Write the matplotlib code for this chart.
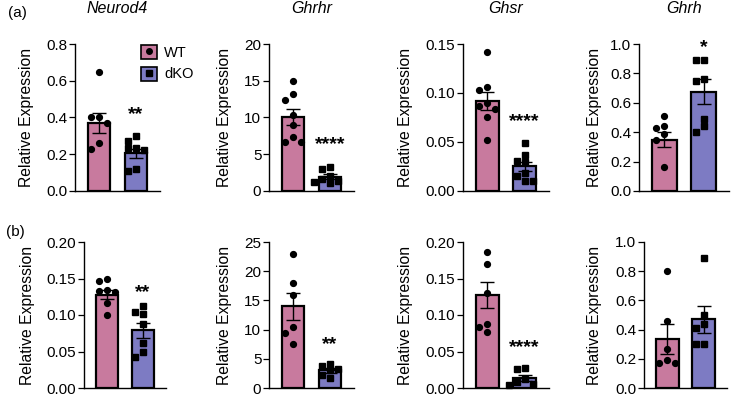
import matplotlib
matplotlib.use('Agg')
from matplotlib import pyplot
from matplotlib.patches import Patch
from matplotlib.lines import Line2D
from matplotlib.ticker import MultipleLocator, FormatStrFormatter

pyplot.rcParams['font.family'] = ['Liberation Sans', 'DejaVu Sans']

# Panel data, row (a) then row (b)
genes = ['Neurod4', 'Ghrhr', 'Ghsr', 'Ghrh', '', '', '', '']
groups = ['WT', 'dKO']

wt_points = [
    [0.65, 0.40, 0.40, 0.37, 0.26, 0.23],
    [15.0, 13.2, 12.4, 10.4, 9.0, 7.3, 6.6, 6.6],
    [0.142, 0.106, 0.103, 0.090, 0.087, 0.084, 0.076, 0.052],
    [0.51, 0.44, 0.43, 0.39, 0.35, 0.16],
    [0.149, 0.147, 0.134, 0.133, 0.131, 0.116, 0.100],
    [23.0, 17.9, 15.9, 10.4, 9.5, 7.5],
    [0.186, 0.170, 0.130, 0.088, 0.083, 0.077],
    [0.80, 0.46, 0.27, 0.19, 0.17, 0.17],
]
dko_points = [
    [0.30, 0.27, 0.233, 0.236, 0.224, 0.12, 0.11],
    [3.2, 3.0, 2.0, 1.7, 1.4, 1.2, 1.1],
    [0.049, 0.037, 0.031, 0.030, 0.018, 0.015, 0.010, 0.010],
    [0.89, 0.89, 0.76, 0.75, 0.49, 0.44, 0.40],
    [0.112, 0.104, 0.101, 0.088, 0.062, 0.049, 0.043],
    [4.1, 3.8, 3.3, 3.0, 2.3, 1.7],
    [0.027, 0.026, 0.012, 0.008, 0.006, 0.004],
    [0.89, 0.50, 0.44, 0.41, 0.30, 0.30],
]
wt_mean = [0.37, 10.05, 0.092, 0.35, 0.128, 14.0, 0.127, 0.336]
wt_sem = [0.053, 1.1, 0.0095, 0.052, 0.006, 2.35, 0.018, 0.105]
dko_mean = [0.205, 1.95, 0.025, 0.675, 0.079, 3.05, 0.0137, 0.47]
dko_sem = [0.025, 0.3, 0.005, 0.085, 0.0105, 0.4, 0.004, 0.09]

y_max = [0.8, 20, 0.15, 1.0, 0.20, 25, 0.20, 1.0]
y_step = [0.2, 5, 0.05, 0.2, 0.05, 5, 0.05, 0.2]
y_fmt = ['%.1f', '%d', '%.2f', '%.1f', '%.2f', '%d', '%.2f', '%.1f']

stars = ['**', '****', '****', '*', '**', '**', '****', '']
star_y = [0.45, 7.2, 0.078, 1.02, 0.14, 8.65, 0.064, 0]

pink = '#C87A9E'
purple = '#7D7BC3'

W, H = 731, 396
fig = pyplot.figure(figsize=(W / 100, H / 100), dpi=100)

# axes boxes in pixels (left, right), rows (top, bottom)
cols = [[(75, 160), (269, 354), (463, 549), (639, 729)],
        [(84, 166), (269, 354), (463, 549), (644, 727)]]
rows = [(44, 191), (242, 388)]
label_off = [[-48, -44, -57, -44], [-56, -44, -57, -50]]

XL = (-0.65, 1.65)
GAP = 6.0   # min distance between dot centres, px
STEP = 8.0  # sideways step, px


def swarm(vals, px_per_val):
    order = sorted(range(len(vals)), key=lambda i: -vals[i])
    placed = []
    offs = [0.0] * len(vals)
    for i in order:
        y = vals[i] * px_per_val
        for k in [0, -1, 1, -2, 2, -3, 3]:
            x = k * STEP
            if all((x - px) ** 2 + (y - py) ** 2 >= GAP ** 2 for px, py in placed):
                break
        placed.append((x, y))
        offs[i] = x
    return offs


for r in range(2):
    top, bottom = rows[r]
    for c in range(4):
        n = r * 4 + c
        left, right = cols[r][c]
        ax = fig.add_axes([left / W, 1 - bottom / H, (right - left) / W, (bottom - top) / H])
        unit = (right - left) / (XL[1] - XL[0])
        ppv = (bottom - top) / y_max[n]

        ax.bar([0, 1], [wt_mean[n], dko_mean[n]], width=0.62, color=[pink, purple],
               edgecolor='black', linewidth=1.6, zorder=1)
        ax.errorbar([0, 1], [wt_mean[n], dko_mean[n]], yerr=[wt_sem[n], dko_sem[n]],
                    fmt='none', ecolor='black', elinewidth=1.0, capsize=5, capthick=1.0, zorder=2)

        for gi, (pts, mk, ms) in enumerate([(wt_points[n], 'o', 4.2), (dko_points[n], 's', 3.8)]):
            offs = swarm(pts, ppv)
            xs = [gi + o / unit for o in offs]
            ax.plot(xs, pts, ls='', marker=mk, ms=ms, color='black', zorder=3, clip_on=False)

        if stars[n]:
            ax.annotate(stars[n], (1, star_y[n]), xytext=(0, -8), textcoords='offset points',
                        ha='center', va='baseline', fontsize=14, fontweight='bold',
                        annotation_clip=False)

        ax.set_xlim(*XL)
        ax.set_ylim(0, y_max[n])
        ax.yaxis.set_major_locator(MultipleLocator(y_step[n]))
        ax.yaxis.set_major_formatter(FormatStrFormatter(y_fmt[n]))
        ax.set_xticks([])
        for s in ['top', 'right']:
            ax.spines[s].set_visible(False)
        for s in ['left', 'bottom']:
            ax.spines[s].set_linewidth(1.0)
        ax.tick_params(axis='y', length=4, width=0.9, labelsize=11, pad=1.5)
        ax.set_ylabel('Relative Expression', fontsize=11.3, va='center')
        ax.yaxis.set_label_coords(label_off[r][c] / (right - left), 0.5)

        if genes[n]:
            ax.set_title(genes[n], fontstyle='italic', fontsize=11.5, pad=22)

        if n == 0:
            handles = [(Patch(facecolor=pink, edgecolor='black', linewidth=1.2),
                        Line2D([], [], ls='', marker='o', ms=4, color='black')),
                       (Patch(facecolor=purple, edgecolor='black', linewidth=1.2),
                        Line2D([], [], ls='', marker='s', ms=3.8, color='black'))]
            fig.legend(handles, groups, loc='upper left', bbox_to_anchor=(141 / W, 1 - 45 / H),
                       frameon=False, fontsize=10.5, handlelength=1.1, handleheight=1.1,
                       handletextpad=0.5, labelspacing=0.45, borderpad=0, borderaxespad=0)

fig.text(8 / W, 1 - 13 / H, '(a)', fontsize=11, va='center')
fig.text(6 / W, 1 - 232 / H, '(b)', fontsize=11, va='center')

fig.savefig('out.png', dpi=100)
